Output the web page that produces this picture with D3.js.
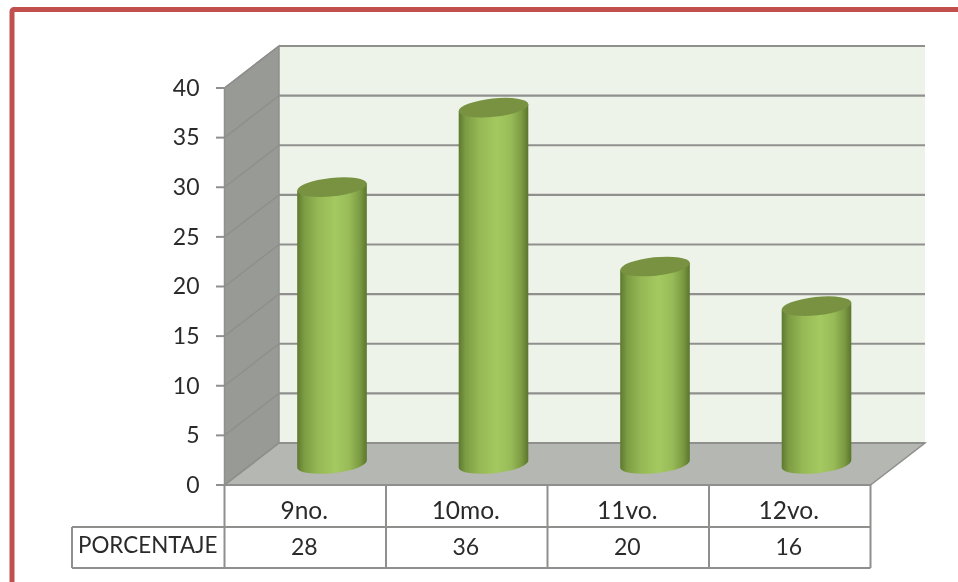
<!DOCTYPE html>
<html><head><meta charset="utf-8">
<script src="https://cdn.jsdelivr.net/npm/d3@7"></script>
<style>html,body{margin:0;padding:0;background:#fff;overflow:hidden}svg{display:block}text{font-family:Lato,"Open Sans",sans-serif;fill:#2b2b2b}</style>
</head><body><svg id="c" width="958" height="582"></svg>
<script>
const categories = ["9no.","10mo.","11vo.","12vo."];
const values = [28,36,20,16];
const seriesName = "PORCENTAJE";
const yTicks = [0,5,10,15,20,25,30,35,40];

const svg = d3.select("#c");
const x = d3.scaleBand().domain(categories).range([224.5,870.5]);
const y = d3.scaleLinear().domain([0,40]).range([485,88]);
const dx = 54.5, dy = -42;
const rowA = 527, rowB = 568, tableLeft = 72;
const gridC = "#8f908d";

const defs = svg.append("defs");
const g = defs.append("linearGradient").attr("id","cyl");
[[0,"#5d7a2f"],[.1,"#7d9c43"],[.3,"#96b855"],[.55,"#a4c960"],[.75,"#98bb58"],[.9,"#7c9b42"],[1,"#5a762c"]]
  .forEach(([o,c])=>g.append("stop").attr("offset",o).attr("stop-color",c));
defs.append("filter").attr("id","soft").append("feGaussianBlur").attr("stdDeviation",0.5);

const root = svg.append("g").attr("filter","url(#soft)");
root.append("rect").attr("x",12).attr("y",9.5).attr("width",980).attr("height",620).attr("rx",2)
  .attr("fill","none").attr("stroke","#c0504d").attr("stroke-width",5);

const L = x.range()[0], R = x.range()[1], y0 = y(0), yT = y(40);
const poly = pts => "M"+pts.map(p=>p.join(",")).join("L")+"Z";
root.append("path").attr("d",poly([[L+dx,yT+dy],[925,yT+dy],[925,y0+dy],[L+dx,y0+dy]])).attr("fill","#eef3ea");
root.append("path").attr("d",poly([[L,yT],[L+dx,yT+dy],[L+dx,y0+dy],[L,y0]])).attr("fill","#989a95").attr("stroke",gridC).attr("stroke-width",1.5);
root.append("path").attr("d",poly([[L,y0],[L+dx,y0+dy],[R+dx,y0+dy],[R,y0]])).attr("fill","#b5b7b2").attr("stroke",gridC).attr("stroke-width",1.5);

yTicks.forEach(t=>{
  const py = y(t);
  root.append("line").attr("x1",L+dx).attr("x2",925).attr("y1",py+dy).attr("y2",py+dy).attr("stroke",gridC).attr("stroke-width",2.2);
  root.append("line").attr("x1",L).attr("x2",L+dx).attr("y1",py).attr("y2",py+dy).attr("stroke",gridC).attr("stroke-width",1.5);
  root.append("line").attr("x1",216).attr("x2",L).attr("y1",py).attr("y2",py).attr("stroke",gridC).attr("stroke-width",2);
  root.append("text").attr("x",199.5).attr("y",py+2).attr("text-anchor","end").attr("dominant-baseline","middle").attr("font-size",23).text(t);
});

// cylinders
const rx = 35, ry = 9.2, rot = -6, rad = rot*Math.PI/180;
const ex = rx*Math.cos(rad), ey = rx*Math.sin(rad);
categories.forEach((c,i)=>{
  const cx = x(c)+x.bandwidth()/2+dx/2-0.5;
  const by = y0+dy/2, ty = y(values[i])+dy/2+1;
  root.append("path").attr("d",
    `M${cx-ex},${ty-ey}L${cx-ex},${by-ey}A${rx},${ry} ${rot} 0 0 ${cx+ex},${by+ey}L${cx+ex},${ty+ey}Z`)
    .attr("fill","url(#cyl)");
  root.append("ellipse").attr("cx",0).attr("cy",0).attr("rx",rx).attr("ry",ry)
    .attr("transform",`translate(${cx},${ty}) rotate(${rot})`).attr("fill","#789242");
});

// data table
const tc = "#8f908d";
const tl = (a,b,c,d)=>root.append("line").attr("x1",a).attr("y1",b).attr("x2",c).attr("y2",d).attr("stroke",tc).attr("stroke-width",2);
tl(L,y0,R,y0); tl(tableLeft,rowA,R,rowA); tl(tableLeft,rowB,R,rowB); tl(tableLeft,rowA,tableLeft,rowB);
tl(L,y0,L,rowB);
categories.forEach(c=>tl(x(c)+x.bandwidth(),y0,x(c)+x.bandwidth(),rowB));
categories.forEach((c,i)=>{
  const cx = x(c)+x.bandwidth()/2-1;
  root.append("text").attr("x",cx).attr("y",513).attr("text-anchor","middle").attr("dominant-baseline","middle").attr("font-size",24.5).text(c);
  root.append("text").attr("x",cx).attr("y",549).attr("text-anchor","middle").attr("dominant-baseline","middle").attr("font-size",23).text(values[i]);
});
root.append("text").attr("x",78).attr("y",547).attr("dominant-baseline","middle").attr("font-size",22.4).text(seriesName);
</script></body></html>
